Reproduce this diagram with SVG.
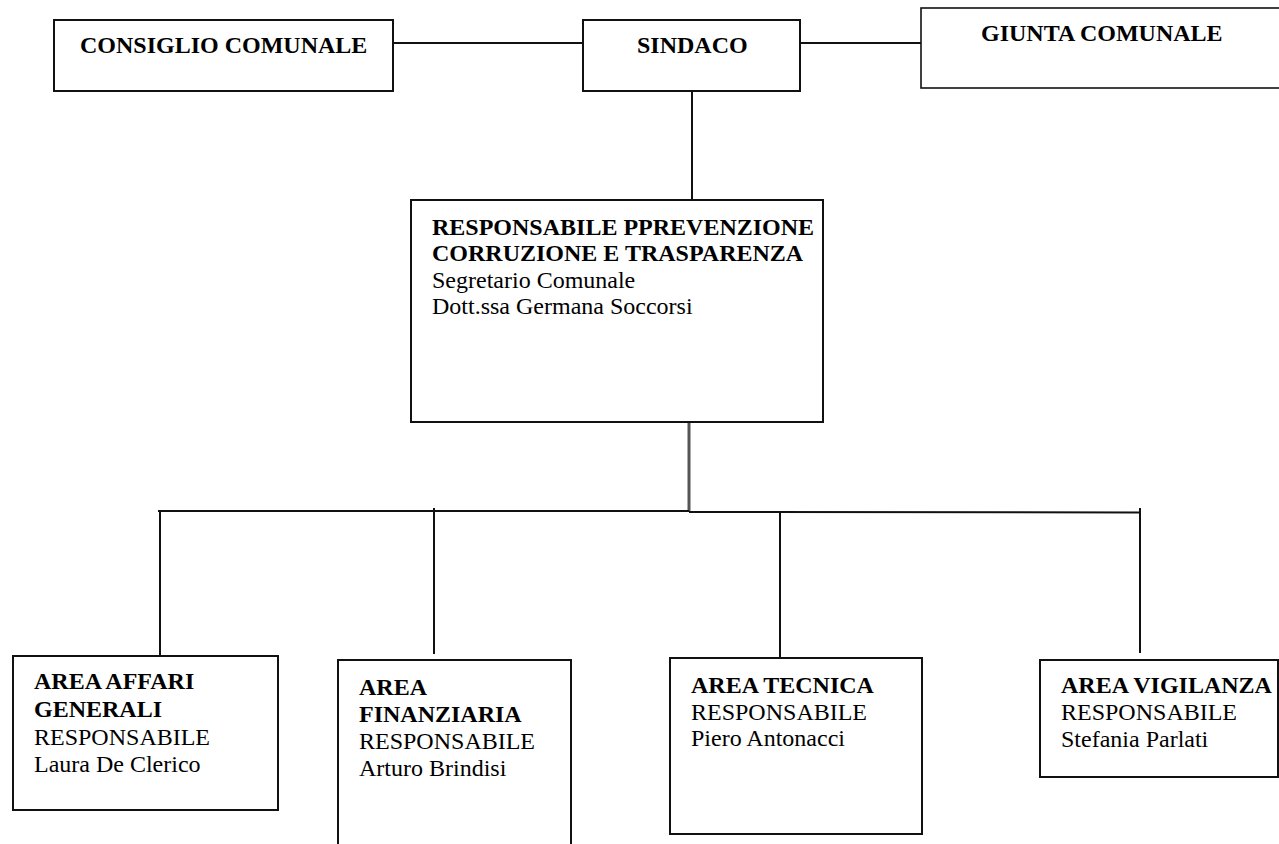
<svg xmlns="http://www.w3.org/2000/svg" width="1279" height="844" viewBox="0 0 1279 844">
<style>
.box{fill:#fff;stroke:#111;stroke-width:2}
.thin{fill:#fff;stroke:#111;stroke-width:1.6}
.ln{stroke:#111;stroke-width:2;fill:none}
.gr{stroke:#555;stroke-width:3;fill:none}
text{font-family:"Liberation Serif","Times New Roman",serif;font-size:24px;fill:#000}
.b{font-weight:bold}
</style>
<rect width="1279" height="844" fill="#fff"/>
<g id="connectors">
<line class="ln" x1="393" y1="43" x2="583" y2="43"/>
<line class="ln" x1="800" y1="43" x2="921" y2="43"/>
<line class="ln" x1="692" y1="91" x2="692" y2="200"/>
<line class="gr" x1="689" y1="423" x2="689" y2="511"/>
<line class="ln" x1="158" y1="511" x2="689" y2="511"/>
<line class="ln" x1="689" y1="512" x2="1140" y2="512.5"/>
<line class="ln" x1="160" y1="511" x2="160" y2="655"/>
<line class="ln" x1="434" y1="508" x2="434" y2="654"/>
<line class="ln" x1="780" y1="512" x2="780" y2="658"/>
<line class="ln" x1="1140" y1="508" x2="1140" y2="653"/>
</g>
<g id="consiglio">
<rect class="box" x="54" y="20" width="339" height="71"/>
<text class="b" x="80" y="53">CONSIGLIO COMUNALE</text>
</g>
<g id="sindaco">
<rect class="box" x="583" y="20" width="217" height="71"/>
<text class="b" x="637" y="53">SINDACO</text>
</g>
<g id="giunta">
<rect class="thin" x="921" y="8" width="370" height="80"/>
<text class="b" x="981" y="41">GIUNTA COMUNALE</text>
</g>
<g id="rpc">
<rect class="box" x="411" y="200" width="412" height="222"/>
<text class="b" x="432" y="235">RESPONSABILE PPREVENZIONE</text>
<text class="b" x="432" y="261">CORRUZIONE E TRASPARENZA</text>
<text x="432" y="287.5">Segretario Comunale</text>
<text x="432" y="314">Dott.ssa Germana Soccorsi</text>
</g>
<g id="area-affari">
<rect class="box" x="13" y="656" width="265" height="154"/>
<text class="b" x="34" y="689">AREA AFFARI</text>
<text class="b" x="34" y="717">GENERALI</text>
<text x="34" y="745">RESPONSABILE</text>
<text x="34" y="772">Laura De Clerico</text>
</g>
<g id="area-finanziaria">
<rect class="box" x="338" y="660" width="233" height="200"/>
<text class="b" x="359" y="695">AREA</text>
<text class="b" x="359" y="722">FINANZIARIA</text>
<text x="359" y="749">RESPONSABILE</text>
<text x="359" y="776">Arturo Brindisi</text>
</g>
<g id="area-tecnica">
<rect class="box" x="670" y="658" width="252" height="176"/>
<text class="b" x="691" y="693">AREA TECNICA</text>
<text x="691" y="720">RESPONSABILE</text>
<text x="691" y="746">Piero Antonacci</text>
</g>
<g id="area-vigilanza">
<rect class="box" x="1040" y="660" width="238" height="117"/>
<text class="b" x="1061" y="693">AREA VIGILANZA</text>
<text x="1061" y="720">RESPONSABILE</text>
<text x="1061" y="747">Stefania Parlati</text>
</g>
</svg>
